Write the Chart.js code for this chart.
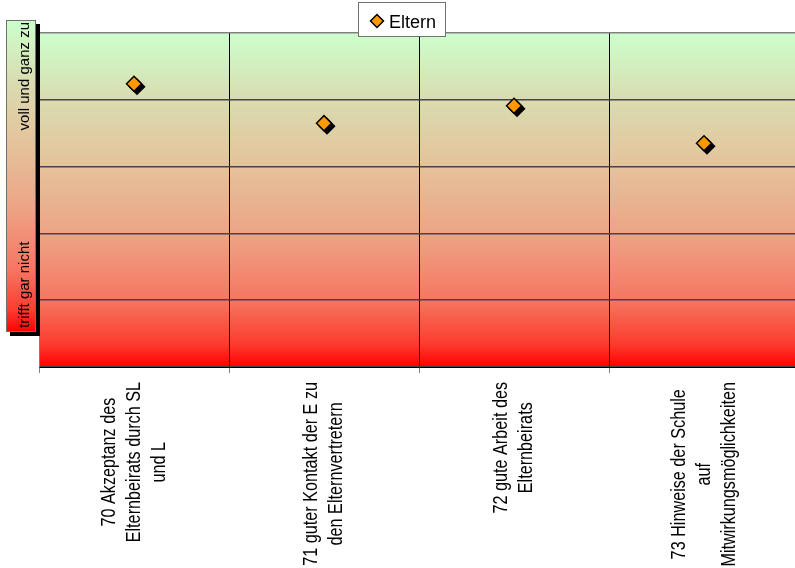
<!DOCTYPE html>
<html><head><meta charset="utf-8">
<script src="https://cdn.jsdelivr.net/npm/chart.js@4/dist/chart.umd.min.js"></script>
<style>html,body{margin:0;padding:0;overflow:hidden;background:#fff;width:795px;height:568px}canvas{display:block}</style>
</head><body><canvas id="c" width="800" height="568"></canvas>
<script>
// ---- data ----
const categories = [
  ['70 Akzeptanz des', 'Elternbeirats durch SL', 'und L'],
  ['71 guter Kontakt der E zu', 'den Elternvertretern'],
  ['72 gute Arbeit des', 'Elternbeirats'],
  ['73 Hinweise der Schule', 'auf', 'Mitwirkungsmöglichkeiten']
];
const seriesName = 'Eltern';
const elternValues = [5.24, 4.65, 4.91, 4.35];
const scaleTopLabel = 'voll und ganz zu';
const scaleBottomLabel = 'trifft gar nicht';
const yMin = 1, yMax = 6;

// ---- styling helpers ----
function redGreenGradient(ctx, top, bottom) {
  const g = ctx.createLinearGradient(0, top, 0, bottom);
  g.addColorStop(0, '#ccffcc');
  g.addColorStop(0.2, '#d9dcb0');
  g.addColorStop(0.4, '#e5c29b');
  g.addColorStop(0.6, '#eda486');
  g.addColorStop(0.8, '#f67661');
  g.addColorStop(0.93, '#fc3c30');
  g.addColorStop(1, '#ff0000');
  return g;
}
const ORANGE = '#ff9900';
const NARROW = 0.81;
const POINT_R = 7.5;

const decor = {
  id: 'decor',
  beforeDraw(chart) {
    const { ctx, chartArea: a } = chart;
    ctx.save();
    ctx.fillStyle = redGreenGradient(ctx, a.top, a.bottom);
    ctx.fillRect(a.left, a.top, a.right - a.left, a.bottom - a.top);
    ctx.restore();
  },
  beforeDatasetsDraw(chart) {
    // black drop shadow under each marker, placed from the library's point elements
    const ctx = chart.ctx;
    ctx.save();
    ctx.fillStyle = '#000';
    ctx.strokeStyle = '#000';
    ctx.lineWidth = 1.5;
    chart.getDatasetMeta(0).data.forEach(el => {
      Chart.helpers.drawPoint(ctx, { pointStyle: 'rectRot', radius: POINT_R, borderWidth: 1.5, rotation: 0 }, el.x + 3, el.y + 3);
    });
    ctx.restore();
  },
  afterDraw(chart) {
    const { ctx, chartArea: a } = chart;
    const xs = chart.scales.x;
    // x category labels (rotated, condensed, lines centred)
    ctx.save();
    ctx.fillStyle = '#000';
    ctx.font = '20px "Liberation Sans", Arial, sans-serif';
    categories.forEach((lines, i) => {
      const x = xs.getPixelForTick(i);
      let maxW = 0;
      lines.forEach(l => { maxW = Math.max(maxW, ctx.measureText(l).width * NARROW); });
      const cy = a.bottom + 15 + maxW / 2;
      const n = lines.length;
      lines.forEach((l, j) => {
        const lx = x + (j - (n - 1) / 2) * 25;
        ctx.save();
        ctx.translate(lx, cy);
        ctx.rotate(-Math.PI / 2);
        ctx.scale(NARROW, 1);
        ctx.textAlign = 'center';
        ctx.textBaseline = 'middle';
        ctx.fillText(l, 0, 0);
        ctx.restore();
      });
    });
    ctx.restore();

    // left scale-description box with shadow
    const bx = a.left - 33, by = a.top - 13, bw = 30, bh = 312;
    ctx.save();
    ctx.fillStyle = '#000';
    ctx.fillRect(bx + 4, by + 4, bw, bh);
    ctx.fillStyle = redGreenGradient(ctx, by, by + bh);
    ctx.fillRect(bx, by, bw, bh);
    ctx.strokeStyle = '#707070';
    ctx.lineWidth = 1;
    ctx.strokeRect(bx + 0.5, by + 0.5, bw - 1, bh - 1);
    ctx.fillStyle = '#000';
    ctx.font = '15px "Liberation Sans", Arial, sans-serif';
    ctx.textBaseline = 'alphabetic';
    ctx.save();
    ctx.translate(bx + 23, by + 2);
    ctx.rotate(-Math.PI / 2);
    ctx.textAlign = 'right';
    ctx.fillText(scaleTopLabel, 0, 0);
    ctx.restore();
    ctx.save();
    ctx.translate(bx + 23, by + bh - 4);
    ctx.rotate(-Math.PI / 2);
    ctx.textAlign = 'left';
    ctx.fillText(scaleBottomLabel, 0, 0);
    ctx.restore();
    ctx.restore();

    // legend box
    const lx = 358, ly = 2, lw = 88, lh = 35;
    ctx.save();
    ctx.fillStyle = '#fff';
    ctx.fillRect(lx, ly, lw, lh);
    ctx.strokeStyle = '#707070';
    ctx.lineWidth = 1;
    ctx.strokeRect(lx + 0.5, ly + 0.5, lw - 1, lh - 1);
    ctx.fillStyle = ORANGE;
    ctx.strokeStyle = '#000';
    ctx.lineWidth = 1.5;
    Chart.helpers.drawPoint(ctx, { pointStyle: 'rectRot', radius: 6.5, borderWidth: 1.5, rotation: 0 }, lx + 19, ly + 19);
    ctx.fillStyle = '#000';
    ctx.font = '18px "Liberation Sans", Arial, sans-serif';
    ctx.textAlign = 'left';
    ctx.textBaseline = 'alphabetic';
    ctx.fillText(seriesName, lx + 31, ly + 26);
    ctx.restore();
  }
};

new Chart(document.getElementById('c'), {
  type: 'line',
  data: {
    labels: categories.map(c => c.join(' ')),
    datasets: [{
      label: seriesName,
      data: elternValues,
      showLine: false,
      pointStyle: 'rectRot',
      pointRadius: POINT_R,
      pointHoverRadius: POINT_R,
      pointBackgroundColor: ORANGE,
      pointBorderColor: '#000',
      pointBorderWidth: 1.5
    }]
  },
  options: {
    responsive: false,
    animation: false,
    layout: { autoPadding: false, padding: { top: 33, right: 1, left: 0, bottom: 0 } },
    plugins: { legend: { display: false }, tooltip: { enabled: false } },
    scales: {
      x: {
        type: 'category',
        offset: true,
        grid: {
          offset: true,
          color: c => (c.index === 0 ? '#808080' : '#000'),
          lineWidth: 1,
          tickLength: 6,
          tickColor: '#808080'
        },
        border: { color: '#000', width: 1 },
        ticks: { display: false },
        afterFit: s => { s.height = 201; }
      },
      y: {
        min: yMin,
        max: yMax,
        ticks: { display: false, stepSize: 1 },
        grid: {
          color: c => (c.tick && c.tick.value === yMax ? '#808080' : '#454545'),
          lineWidth: 1.5,
          drawTicks: false
        },
        border: { color: '#808080', width: 1 },
        afterFit: s => { s.width = 39; }
      }
    }
  },
  plugins: [decor]
});
</script></body></html>
